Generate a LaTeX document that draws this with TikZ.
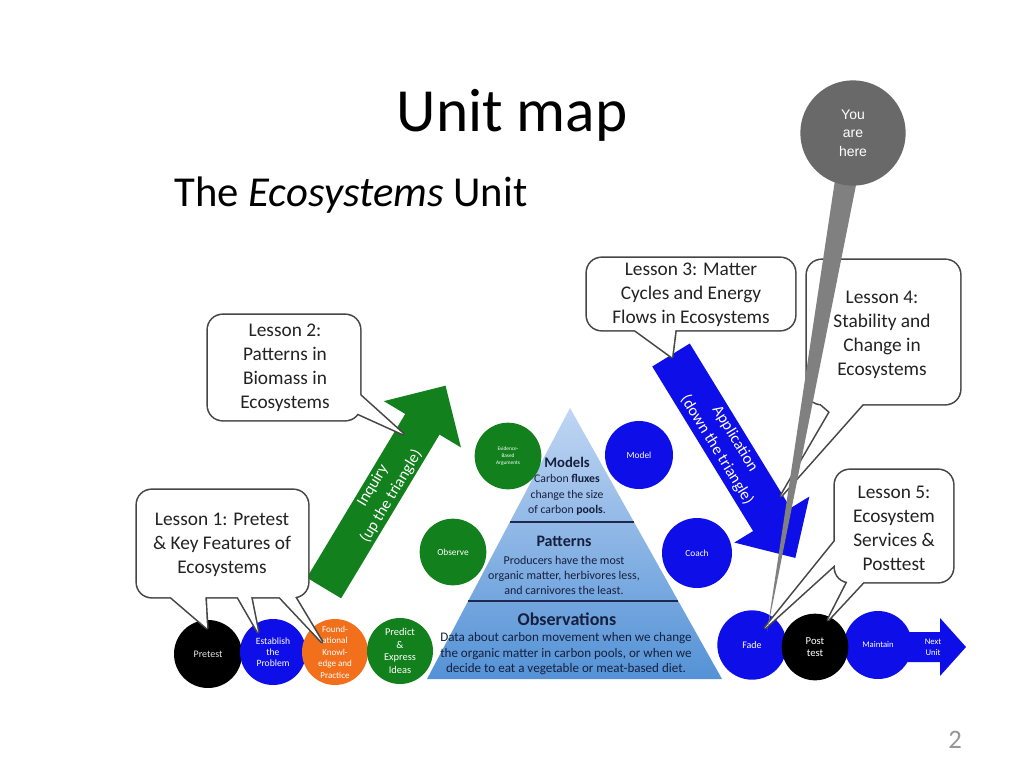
\documentclass[tikz,border=0pt]{standalone}
\usepackage{fontspec}
\setmainfont{Carlito}
\newfontfamily\helv{Liberation Sans}
\usetikzlibrary{calc}
\definecolor{cgreen}{RGB}{18,128,28}
\definecolor{cblue}{RGB}{14,14,232}
\definecolor{corange}{RGB}{242,112,28}
\definecolor{cborder}{RGB}{70,70,70}
\definecolor{ctext}{RGB}{35,35,35}
\definecolor{pyrtext}{RGB}{22,32,62}
\definecolor{pyrline}{RGB}{30,40,80}
\definecolor{pingray}{RGB}{105,105,105}
\definecolor{pinstem}{RGB}{128,128,128}
\definecolor{pyrtop}{RGB}{192,214,243}
\definecolor{pyrbot}{RGB}{84,146,214}
\definecolor{pgnum}{RGB}{150,150,150}
\begin{document}
\begin{tikzpicture}[x=0.75pt,y=-0.75pt,
  circ/.style={circle,inner sep=0pt,text=white,align=center},
  callline/.style={draw=cborder,line width=2.4pt,line join=round},
  calltext/.style={text=ctext,align=center,font=\fontsize{14.5}{18}\selectfont},
  pyrhead/.style={text=pyrtext,font=\bfseries#1},
  pyrbody/.style={text=pyrtext,align=center,font=#1},
  arrtext/.style={text=white,align=center,font=\fontsize{12}{16}\selectfont}]
\useasboundingbox (0,0) rectangle (1024,768);
\fill[white] (0,0) rectangle (1024,768);

% titles
\node[anchor=base,font=\fontsize{46}{50}\selectfont] (title) at (512,131) {Unit map};
\node[anchor=base,font=\fontsize{32}{36}\selectfont] (sub) at (351,206) {The \textit{Ecosystems} Unit};

% pyramid
\coordinate (apex) at (570,408);
\coordinate (bl) at (427,679);
\coordinate (br) at (722,679);
\shade[top color=pyrtop,bottom color=pyrbot] (apex) -- (br) -- (bl) -- cycle;
\draw[pyrline,line width=1.2pt] (509.8,522) -- (633.9,522);
\draw[pyrline,line width=1.2pt] (468.2,601) -- (678.2,601);
\node[pyrhead=\fontsize{11}{13}\selectfont] (models) at (567,462) {Models};
\node[pyrbody=\fontsize{8.8}{11.6}\selectfont] (modelst) at (567,495) {Carbon \textbf{fluxes}\\change the size\\of carbon \textbf{pools}.};
\node[pyrhead=\fontsize{12}{14}\selectfont] (patterns) at (564,541) {Patterns};
\node[pyrbody=\fontsize{9}{11.3}\selectfont] (patternst) at (564,575) {Producers have the most\\organic matter, herbivores less,\\and carnivores the least.};
\node[pyrhead=\fontsize{13.5}{15}\selectfont] (obs) at (567,619) {Observations};
\node[pyrbody=\fontsize{9.8}{11.6}\selectfont] (obst) at (566,654) {Data about carbon movement when we change\\the organic matter in carbon pools, or when we\\decide to eat a vegetable or meat-based diet.};

% upper circles
\node[circ,fill=cgreen,minimum size=50pt,font=\fontsize{4}{5}\selectfont] (evid) at (508,456) {Evidence-\\Based\\Arguments};
\node[circ,fill=cblue,minimum size=51pt,font=\fontsize{7}{8}\selectfont] (model) at (639,455) {Model};
\node[circ,fill=cgreen,minimum size=50pt,font=\fontsize{7}{8}\selectfont] (observe) at (453,552) {Observe};
\node[circ,fill=cblue,minimum size=52.5pt,font=\fontsize{7}{8}\selectfont] (coach) at (697,553) {Coach};

% bottom-left circles
\node[circ,fill=black,minimum size=51pt,text=white!90!black,font=\fontsize{7.5}{9}\selectfont] (pre) at (208,654) {Pretest};
\node[circ,fill=cblue,minimum size=49.5pt,font=\fontsize{7.2}{8.4}\selectfont] (estab) at (273,652) {Establish\\the\\Problem};
\node[circ,fill=corange,minimum size=49.5pt,font=\fontsize{6.8}{8.6}\selectfont] (found) at (335,652) {Found-\\ational\\Knowl-\\edge and\\Practice};
\node[circ,fill=cgreen,minimum size=49.5pt,font=\fontsize{7.8}{9.6}\selectfont] (predict) at (400,651) {Predict\\\&\\Express\\Ideas};

% bottom-right circles and next-unit arrow
\fill[cblue] (880,632) -- (940,632) -- (940,618) -- (966,647) -- (940,676) -- (940,662) -- (880,662) -- cycle;
\node[text=white,align=center,font=\fontsize{6.5}{8}\selectfont] (next) at (933,647) {Next\\Unit};
\node[circ,fill=cblue,minimum size=52pt,font=\fontsize{7.5}{9}\selectfont] (fade) at (752,645) {Fade};
\node[circ,fill=cblue,minimum size=51pt,font=\fontsize{6.5}{8}\selectfont] (maint) at (878,645) {Maintain};
\node[circ,fill=black,minimum size=50pt,font=\fontsize{8}{9.5}\selectfont] (post) at (815,647) {Post\\test};

% green arrow
\begin{scope}[shift={(324,588)},rotate=59]
  \fill[cgreen] (0,-20) -- (191,-20) -- (191,-45) -- (236,0) -- (191,45) -- (191,20) -- (0,20) -- cycle;
  \node[arrtext,rotate=59] (inq) at (113,0) {Inquiry\\(up the triangle)};
\end{scope}

% blue arrow
\begin{scope}[shift={(671,355)},rotate=-58.5]
  \fill[cblue] (0,-22) -- (193,-22) -- (193,-44) -- (238,0) -- (193,44) -- (193,22) -- (0,22) -- cycle;
  \node[arrtext,rotate=-58.5] (appl) at (105,0) {Application\\(down the triangle)};
\end{scope}

% callout Lesson 2
\draw[callline] [rounded corners=11pt] (208,315) rectangle (360,420) [sharp corners] (352,388) -- (403,434) -- (350,410);
\fill[white,rounded corners=11pt] (208,315) rectangle (360,420);
\fill[white] (352,388) -- (403,434) -- (350,410) -- cycle;
\node[calltext] (l2) at (285,368) {Lesson 2:\\Patterns in\\Biomass in\\Ecosystems};

% callout Lesson 1
\draw[callline] [rounded corners=11pt] (137,490) rectangle (308,597) [sharp corners]
  (165,592) -- (207,628) -- (205,592)
  (235,592) -- (258,632) -- (250,592)
  (275,592) -- (322,642) -- (292,592);
\fill[white,rounded corners=11pt] (137,490) rectangle (308,597);
\fill[white] (165,592) -- (207,628) -- (205,592) -- cycle;
\fill[white] (235,592) -- (258,632) -- (250,592) -- cycle;
\fill[white] (275,592) -- (322,642) -- (292,592) -- cycle;
\node[calltext] (l1) at (222,545) {Lesson 1: Pretest\\\& Key Features of\\Ecosystems};

% callout Lesson 3
\draw[callline] [rounded corners=11pt] (587,258) rectangle (795,330) [sharp corners] (628,325) -- (672,357) -- (676,325);
\fill[white,rounded corners=11pt] (587,258) rectangle (795,330);
\fill[white] (628,325) -- (672,357) -- (676,325) -- cycle;
\node[calltext] (l3) at (691,295) {Lesson 3: Matter\\Cycles and Energy\\Flows in Ecosystems};

% callout Lesson 4
\draw[callline] [rounded corners=11pt] (807,260) rectangle (960,404) [sharp corners] (814,398) -- (830,412) -- (781,496) -- (868,398);
\fill[white,rounded corners=11pt] (807,260) rectangle (960,404);
\fill[white] (814,398) -- (830,412) -- (781,496) -- (868,398) -- cycle;
\node[calltext] (l4) at (882,335) {Lesson 4:\\Stability and\\Change in\\Ecosystems};

% callout Lesson 5
\draw[callline] [rounded corners=11pt] (835,470) rectangle (953,582) [sharp corners]
  (840,535) -- (765,628) -- (840,560)
  (850,577) -- (828,620) -- (868,577);
\fill[white,rounded corners=11pt] (835,470) rectangle (953,582);
\fill[white] (840,535) -- (765,628) -- (840,560) -- cycle;
\fill[white] (850,577) -- (828,620) -- (868,577) -- cycle;
\node[calltext] (l5) at (894,528) {Lesson 5:\\Ecosystem\\Services \&\\Posttest};

% you are here pin
\fill[pinstem] (835,180) -- (857,180) -- (767,632) -- cycle;
\node[circle,fill=pingray,minimum size=79pt,inner sep=0pt,text=white,align=center,font=\helv\fontsize{10.5}{13.9}\selectfont] (pin) at (853,133) {You\\are\\here};

% page number
\node[text=pgnum,font=\fontsize{20}{24}\selectfont] (pg) at (955,740) {2};
\end{tikzpicture}
\end{document}
